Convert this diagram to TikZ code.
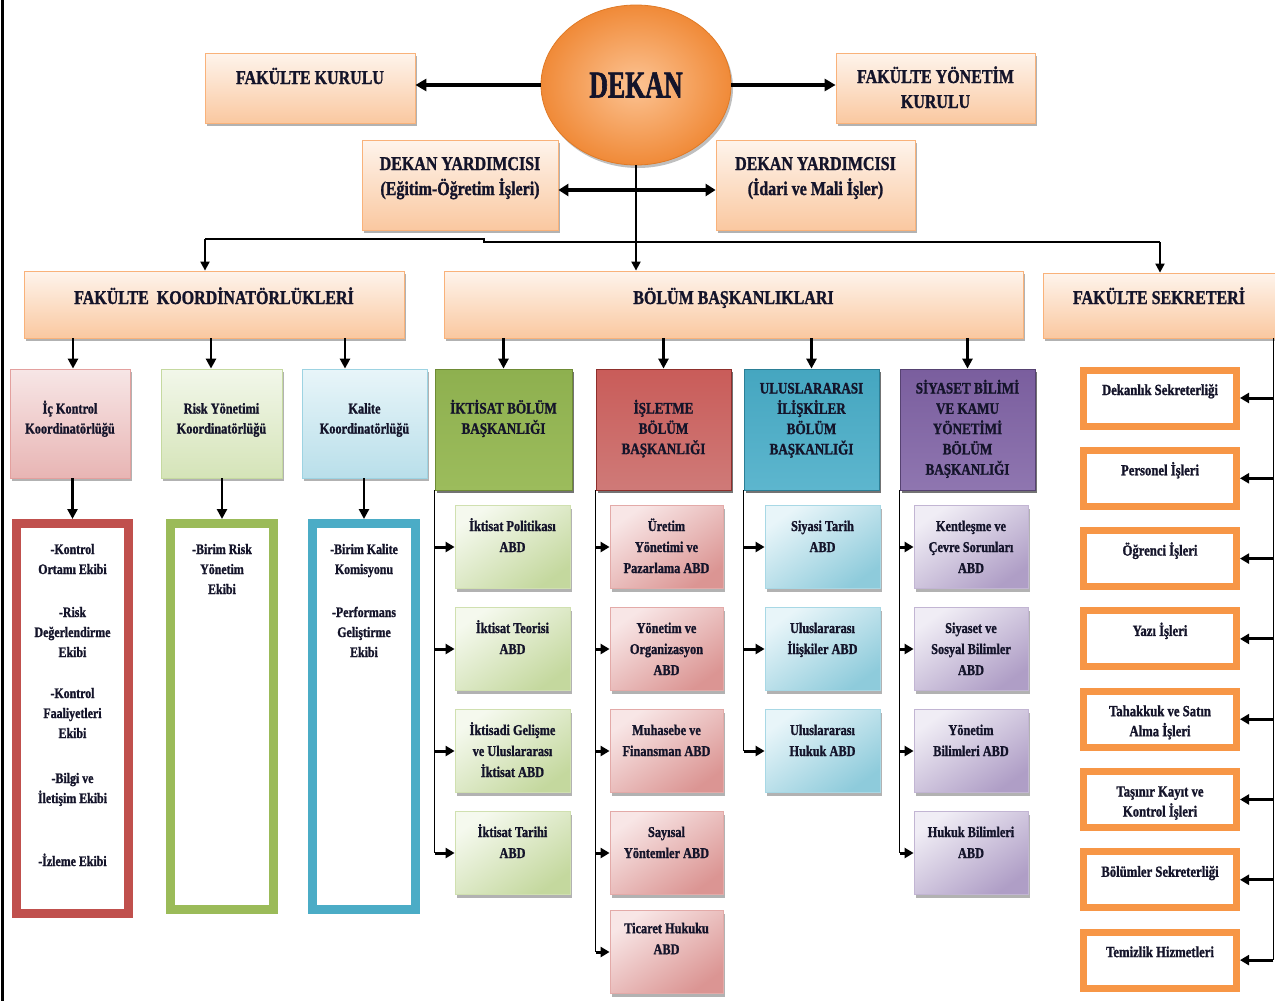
\documentclass[tikz,border=0pt]{standalone}
\usepackage{fontspec}
\newfontfamily\cf{Liberation Serif}[FakeStretch=0.82,FakeBold=1.2]
\newfontfamily\dkf{Liberation Serif}[FakeStretch=0.68,FakeBold=1.5]
\usetikzlibrary{arrows.meta,shadows,shapes.geometric}
\newcommand\tbx[4]{\parbox[c][#2][t]{#1}{\centering\vspace*{#3}\strut#4\par}}
\definecolor{peacht}{HTML}{FEF4EC}
\definecolor{peachbt}{HTML}{FAC8A0}
\definecolor{peachd}{HTML}{F9B27A}
\definecolor{dkin}{HTML}{FCC393}
\definecolor{dkout}{HTML}{F08A38}
\definecolor{dkdr}{HTML}{E07A26}
\definecolor{txt}{HTML}{14142A}
\definecolor{cpt}{HTML}{F7E6E6}\definecolor{cpb}{HTML}{E8B5B4}\definecolor{cpd}{HTML}{E3A09E}
\definecolor{cgt}{HTML}{F2F7EA}\definecolor{cgb}{HTML}{D5E4B8}\definecolor{cgd}{HTML}{C5D9A0}
\definecolor{cbt}{HTML}{E8F5F9}\definecolor{cbb}{HTML}{B9DFEA}\definecolor{cbd}{HTML}{9DD3E2}
\definecolor{hgt}{HTML}{8EB04F}\definecolor{hgm}{HTML}{B4CE83}\definecolor{hgb}{HTML}{9CBC5C}\definecolor{hgd}{HTML}{6E8B35}
\definecolor{hrt}{HTML}{C95C59}\definecolor{hrm}{HTML}{DE9C9A}\definecolor{hrb}{HTML}{CF7A78}\definecolor{hrd}{HTML}{8E2F2C}
\definecolor{hbt}{HTML}{45A6C0}\definecolor{hbm}{HTML}{9DD2E0}\definecolor{hbb}{HTML}{5DB6CE}\definecolor{hbd}{HTML}{2B7F96}
\definecolor{hpt}{HTML}{7A5E9E}\definecolor{hpm}{HTML}{B5A5CB}\definecolor{hpb}{HTML}{8F76B0}\definecolor{hpd}{HTML}{564271}
\definecolor{agt}{HTML}{F5F9EE}\definecolor{agb}{HTML}{C4D89E}\definecolor{agd}{HTML}{D0E0B0}
\definecolor{art}{HTML}{F8E6E6}\definecolor{arb}{HTML}{DB9593}\definecolor{ard}{HTML}{E3AAA8}
\definecolor{abt}{HTML}{E8F5F9}\definecolor{abb}{HTML}{8ECBDB}\definecolor{abd}{HTML}{A8D8E5}
\definecolor{apt}{HTML}{F0EDF5}\definecolor{apb}{HTML}{AF9EC6}\definecolor{apd}{HTML}{C2B5D3}
\definecolor{frr}{HTML}{C0504D}\definecolor{frg}{HTML}{9BBB59}\definecolor{frb}{HTML}{4BACC6}
\definecolor{sek}{HTML}{F79646}
\tikzset{
  shd/.style={drop shadow={shadow xshift=2pt,shadow yshift=-3pt,fill=black,opacity=0.3}},
  peach/.style={shd,draw=peachd,line width=0.8pt,top color=peacht,bottom color=peachbt,inner sep=0pt,text=txt,
    font=\cf\bfseries\fontsize{19.5}{25}\selectfont},
  dekanst/.style={ellipse,minimum width=190pt,minimum height=160pt,inner sep=0pt,draw=dkdr,line width=0.8pt,text=txt,
    inner color=dkin,outer color=dkout,drop shadow={shadow xshift=2pt,shadow yshift=-3pt,fill=black,opacity=0.25},
    font=\dkf\bfseries\fontsize{38}{40}\selectfont},
  coord/.style={shd,line width=0.8pt,inner sep=0pt,text=txt,font=\cf\bfseries\fontsize{15}{20}\selectfont},
  coordp/.style={coord,draw=cpd,top color=cpt,bottom color=cpb},
  coordg/.style={coord,draw=cgd,top color=cgt,bottom color=cgb},
  coordb/.style={coord,draw=cbd,top color=cbt,bottom color=cbb},
  frm/.style={line width=9pt,fill=white,inner sep=0pt,text=txt,font=\cf\bfseries\fontsize{14.5}{20}\selectfont},
  head/.style={drop shadow={shadow xshift=2pt,shadow yshift=-3pt,fill=black,opacity=0.55},line width=0.8pt,inner sep=0pt,text=txt,
    font=\cf\bfseries\fontsize{16}{20.3}\selectfont},
  headg/.style={head,draw=hgd,top color=hgt,middle color=hgm,bottom color=hgb},
  headr/.style={head,draw=hrd,top color=hrt,middle color=hrm,bottom color=hrb},
  headb/.style={head,draw=hbd,top color=hbt,middle color=hbm,bottom color=hbb},
  headp/.style={head,draw=hpd,top color=hpt,middle color=hpm,bottom color=hpb},
  abdst/.style={shd,line width=0.8pt,inner sep=0pt,text=txt,font=\cf\bfseries\fontsize{15}{21}\selectfont},
  abdg/.style={abdst,draw=agd,top color=agt,bottom color=agb,shading angle=35},
  abdr/.style={abdst,draw=ard,top color=art,bottom color=arb,shading angle=35},
  abdb/.style={abdst,draw=abd,top color=abt,bottom color=abb,shading angle=35},
  abdp/.style={abdst,draw=apd,top color=apt,bottom color=apb,shading angle=35},
  sekbox/.style={draw=sek,line width=7pt,fill=white,inner sep=0pt,text=txt,font=\cf\bfseries\fontsize{15.5}{20}\selectfont},
  bigarr/.style={line width=3.5pt,-{Triangle[length=11pt,width=12pt]}},
  dblarr/.style={line width=3.5pt,{Triangle[length=10pt,width=12pt]}-{Triangle[length=10pt,width=12pt]}},
  thinarr/.style={line width=2pt,-{Triangle[length=9pt,width=9pt]}},
  thinline/.style={line width=2pt},
  varr/.style={line width=2.8pt,-{Triangle[length=10pt,width=10pt]}},
  sarr/.style={line width=3pt,-{Triangle[length=9pt,width=10pt]}},
  bus/.style={line width=1.5pt}
}
\begin{document}
\begin{tikzpicture}[x=1pt,y=-1pt]
\useasboundingbox (0,0) rectangle (1275,1001);
\clip (0,0) rectangle (1275,1001);
\fill[white] (0,0) rectangle (1275,1001);
\draw[line width=3pt] (2,0) -- (2,1001);

% top level
\node[dekanst] (dekan) at (636,85) {DEKAN};
\node[peach] (fk) at (310,88) {\tbx{210pt}{70pt}{13.5pt}{FAKÜLTE KURULU}};
\node[peach] (fyk) at (935.5,88) {\tbx{199pt}{70pt}{12.5pt}{FAKÜLTE YÖNETİM\\KURULU}};
\node[peach] (dy1) at (460,185) {\tbx{196pt}{90pt}{12.5pt}{DEKAN YARDIMCISI\\(Eğitim-Öğretim İşleri)}};
\node[peach] (dy2) at (815.5,185) {\tbx{199pt}{90pt}{12.5pt}{DEKAN YARDIMCISI\\(İdari ve Mali İşler)}};

% second level
\node[peach] (fko) at (214,304.5) {\tbx{380pt}{67pt}{15.5pt}{FAKÜLTE\ \ KOORDİNATÖRLÜKLERİ}};
\node[peach] (bb) at (733.5,304.5) {\tbx{579pt}{67pt}{15.5pt}{BÖLÜM BAŞKANLIKLARI}};
\node[peach] (fs) at (1159,305.5) {\tbx{232pt}{65pt}{13.5pt}{FAKÜLTE SEKRETERİ}};

% coordinators
\node[coordp] (ic) at (70,423.5) {\tbx{120pt}{109pt}{30.5pt}{İç Kontrol\\Koordinatörlüğü}};
\node[coordg] (rk) at (221.5,423.5) {\tbx{121pt}{109pt}{30.5pt}{Risk Yönetimi\\Koordinatörlüğü}};
\node[coordb] (kl) at (364.5,423.5) {\tbx{125pt}{109pt}{30.5pt}{Kalite\\Koordinatörlüğü}};

\node[frm,draw=frr] (icf) at (72.5,718.5) {\tbx{112pt}{390pt}{16.5pt}{-Kontrol\\Ortamı Ekibi\\[23pt]-Risk\\Değerlendirme\\Ekibi\\[21pt]-Kontrol\\Faaliyetleri\\Ekibi\\[25pt]-Bilgi ve\\İletişim Ekibi\\[43pt]-İzleme Ekibi}};
\node[frm,draw=frg] (rkf) at (222,716.5) {\tbx{103pt}{386pt}{16.5pt}{-Birim Risk\\Yönetim\\Ekibi}};
\node[frm,draw=frb] (klf) at (364,716.5) {\tbx{103pt}{386pt}{16.5pt}{-Birim Kalite\\Komisyonu\\[23pt]-Performans\\Geliştirme\\Ekibi}};

% department heads
\node[headg] (ikh) at (503.5,429.5) {\tbx{137pt}{121pt}{30.3pt}{İKTİSAT BÖLÜM\\BAŞKANLIĞI}};
\node[headr] (ish) at (663.5,429.5) {\tbx{135pt}{121pt}{30.3pt}{İŞLETME\\BÖLÜM\\BAŞKANLIĞI}};
\node[headb] (uih) at (811.5,429.5) {\tbx{135pt}{121pt}{10.3pt}{ULUSLARARASI\\İLİŞKİLER\\BÖLÜM\\BAŞKANLIĞI}};
\node[headp] (syh) at (967.5,429.5) {\tbx{135pt}{121pt}{10.3pt}{SİYASET BİLİMİ\\VE KAMU\\YÖNETİMİ\\BÖLÜM\\BAŞKANLIĞI}};

% ABD boxes
\node[abdg] (ik1) at (512.5,547) {\tbx{115pt}{83pt}{10.8pt}{İktisat Politikası\\ABD}};
\node[abdg] (ik2) at (512.5,649) {\tbx{115pt}{83pt}{10.8pt}{İktisat Teorisi\\ABD}};
\node[abdg] (ik3) at (512.5,751) {\tbx{115pt}{83pt}{10.8pt}{İktisadi Gelişme\\ve Uluslararası\\İktisat ABD}};
\node[abdg] (ik4) at (512.5,853) {\tbx{115pt}{83pt}{10.8pt}{İktisat Tarihi\\ABD}};

\node[abdr] (is1) at (666.5,547) {\tbx{113pt}{83pt}{10.8pt}{Üretim\\Yönetimi ve\\Pazarlama ABD}};
\node[abdr] (is2) at (666.5,649) {\tbx{113pt}{83pt}{10.8pt}{Yönetim ve\\Organizasyon\\ABD}};
\node[abdr] (is3) at (666.5,751) {\tbx{113pt}{83pt}{10.8pt}{Muhasebe ve\\Finansman ABD}};
\node[abdr] (is4) at (666.5,853) {\tbx{113pt}{83pt}{10.8pt}{Sayısal\\Yöntemler ABD}};
\node[abdr] (is5) at (666.5,952) {\tbx{113pt}{83pt}{8pt}{Ticaret Hukuku\\ABD}};

\node[abdb] (ui1) at (822.5,547) {\tbx{115pt}{83pt}{10.8pt}{Siyasi Tarih\\ABD}};
\node[abdb] (ui2) at (822.5,649) {\tbx{115pt}{83pt}{10.8pt}{Uluslararası\\İlişkiler ABD}};
\node[abdb] (ui3) at (822.5,751) {\tbx{115pt}{83pt}{10.8pt}{Uluslararası\\Hukuk ABD}};

\node[abdp] (sy1) at (971,547) {\tbx{114pt}{83pt}{10.8pt}{Kentleşme ve\\Çevre Sorunları\\ABD}};
\node[abdp] (sy2) at (971,649) {\tbx{114pt}{83pt}{10.8pt}{Siyaset ve\\Sosyal Bilimler\\ABD}};
\node[abdp] (sy3) at (971,751) {\tbx{114pt}{83pt}{10.8pt}{Yönetim\\Bilimleri ABD}};
\node[abdp] (sy4) at (971,853) {\tbx{114pt}{83pt}{10.8pt}{Hukuk Bilimleri\\ABD}};

% secretary units
\node[sekbox] (s1) at (1160,398) {\tbx{153pt}{56pt}{11pt}{Dekanlık Sekreterliği}};
\node[sekbox] (s2) at (1160,478.3) {\tbx{153pt}{56pt}{11pt}{Personel İşleri}};
\node[sekbox] (s3) at (1160,558.6) {\tbx{153pt}{56pt}{11pt}{Öğrenci İşleri}};
\node[sekbox] (s4) at (1160,638.9) {\tbx{153pt}{56pt}{11pt}{Yazı İşleri}};
\node[sekbox] (s5) at (1160,719.2) {\tbx{153pt}{56pt}{11pt}{Tahakkuk ve Satın\\Alma İşleri}};
\node[sekbox] (s6) at (1160,799.5) {\tbx{153pt}{56pt}{11pt}{Taşınır Kayıt ve\\Kontrol İşleri}};
\node[sekbox] (s7) at (1160,879.8) {\tbx{153pt}{56pt}{11pt}{Bölümler Sekreterliği}};
\node[sekbox] (s8) at (1160,960.1) {\tbx{153pt}{56pt}{11pt}{Temizlik Hizmetleri}};

% connectors: top
\draw[bigarr] (dekan.west) -- (dekan.west -| fk.east);
\draw[bigarr] (dekan.east) -- (dekan.east -| fyk.west);
\draw[dblarr] ([yshift=-5pt]dy1.east) -- ([yshift=-5pt]dy2.west);
\draw[thinarr] (dekan.south) -- (dekan.south |- bb.north);
\coordinate (hl) at (205,239);
\coordinate (hm) at (484,239);
\coordinate (hr) at (1160,242);
\draw[thinline] (hl) -- (hm) -- (hm |- hr) -- (hr);
\draw[thinarr] (hl) -- (hl |- fko.north);
\draw[thinarr] (hr) -- (hr |- fs.north);

% coordinators
\coordinate (c1) at (73,0);
\coordinate (c2) at (211,0);
\coordinate (c3) at (345,0);
\draw[varr] (fko.south -| c1) -- (ic.north -| c1);
\draw[varr] (fko.south -| c2) -- (rk.north -| c2);
\draw[varr] (fko.south -| c3) -- (kl.north -| c3);
\draw[varr] (ic.south -| icf.north) -- (icf.north);
\draw[varr] (rk.south -| rkf.north) -- (rkf.north);
\draw[varr] (kl.south -| klf.north) -- (klf.north);

% departments
\foreach \h in {ikh,ish,uih,syh} {\draw[varr] (bb.south -| \h.north) -- (\h.north);}
\draw[bus] (ikh.south west) -- (ikh.south west |- ik4.west);
\foreach \n in {ik1,ik2,ik3,ik4} {\draw[sarr] (ikh.south west |- \n.west) -- (\n.west);}
\draw[bus] (ish.south west) -- (ish.south west |- is5.west);
\foreach \n in {is1,is2,is3,is4,is5} {\draw[sarr] (ish.south west |- \n.west) -- (\n.west);}
\draw[bus] (uih.south west) -- (uih.south west |- ui3.west);
\foreach \n in {ui1,ui2,ui3} {\draw[sarr] (uih.south west |- \n.west) -- (\n.west);}
\draw[bus] (syh.south west) -- (syh.south west |- sy4.west);
\foreach \n in {sy1,sy2,sy3,sy4} {\draw[sarr] (syh.south west |- \n.west) -- (\n.west);}

% secretary
\coordinate (sb) at ([xshift=-2pt]fs.south east);
\draw[bus] (sb) -- (sb |- s8.east);
\foreach \n in {s1,s2,s3,s4,s5,s6,s7,s8} {\draw[sarr] (sb |- \n.east) -- (\n.east);}
\end{tikzpicture}
\end{document}
